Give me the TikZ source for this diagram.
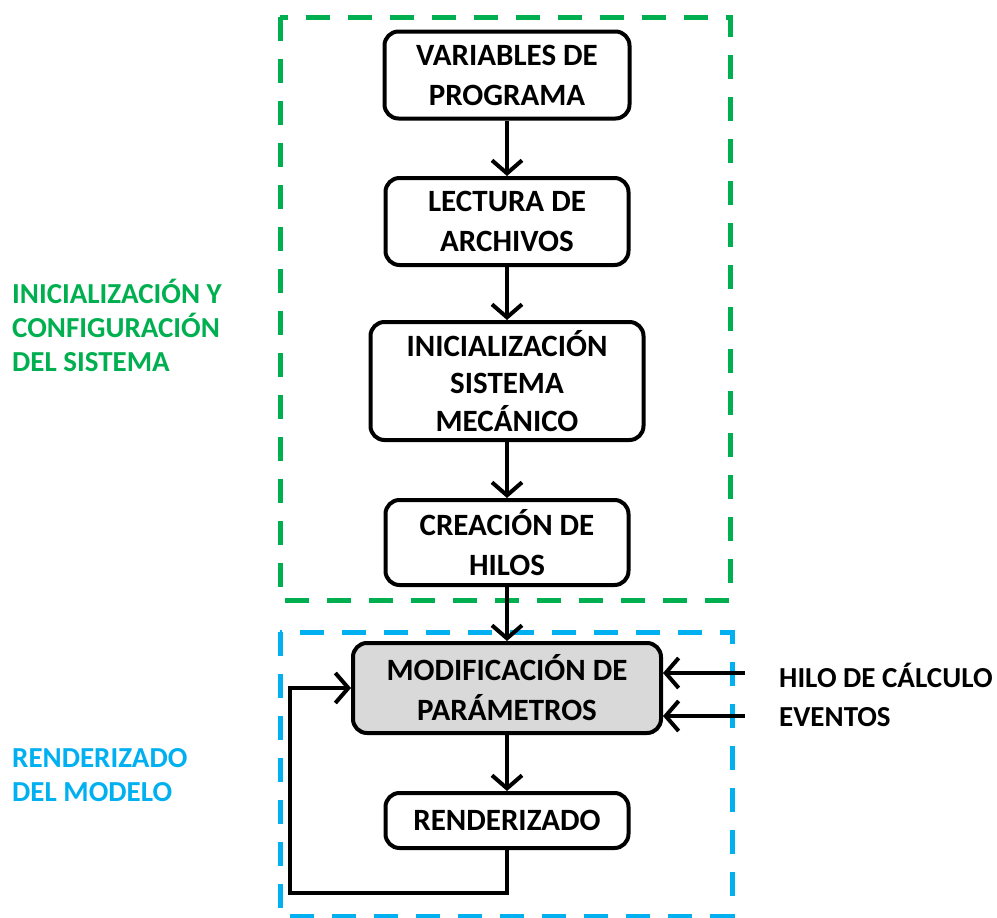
\documentclass[tikz,border=0pt]{standalone}
\usepackage{fontspec}
\setmainfont{Carlito}
\usetikzlibrary{arrows.meta}
\definecolor{grn}{RGB}{0,176,80}
\definecolor{blu}{RGB}{0,176,240}
\definecolor{gfill}{RGB}{217,217,217}
\begin{document}
\begin{tikzpicture}[x=1pt,y=-1pt,
  box/.style={draw=black,line width=4pt,rounded corners=14pt,fill=white,align=center,
    font=\fontsize{31}{40}\selectfont\bfseries,inner sep=0pt},
  arr/.style={line width=4pt,-{Straight Barb[length=13pt,width=30pt]}},
  grnbox/.style={draw=grn,line width=5pt,dash pattern=on 24pt off 18pt},
  blubox/.style={draw=blu,line width=5pt,dash pattern=on 24pt off 18pt},
  lab/.style={anchor=west,align=left,font=\fontsize{29}{34}\selectfont\bfseries,inner sep=0pt},
  rlab/.style={anchor=west,font=\fontsize{29}{34}\selectfont\bfseries,inner sep=0pt}]
\useasboundingbox (0,0) rectangle (997,918);
\fill[white] (0,0) rectangle (997,918);
\draw[grnbox] (280,17) rectangle (730,600);
\draw[blubox] (280,632) rectangle (732,916);

\node[box,minimum width=245pt,minimum height=87pt] (b1) at (507,75) {VARIABLES DE\\PROGRAMA};
\node[box,minimum width=243pt,minimum height=87pt] (b2) at (507,221.5) {LECTURA DE\\ARCHIVOS};
\node[box,minimum width=273pt,minimum height=118pt,font=\fontsize{31}{37.5}\selectfont\bfseries] (b3) at (507,381) {INICIALIZACIÓN\\SISTEMA\\MECÁNICO};
\node[box,minimum width=243pt,minimum height=85pt] (b4) at (507,542.5) {CREACIÓN DE\\HILOS};
\node[box,fill=gfill,minimum width=308pt,minimum height=90pt] (b5) at (507,688) {MODIFICACIÓN DE\\PARÁMETROS};
\node[box,minimum width=243pt,minimum height=55pt] (b6) at (507,820.5) {RENDERIZADO};

\draw[arr] (b1.south) -- (b2.north);
\draw[arr] (b2.south) -- (b3.north);
\draw[arr] (b3.south) -- (b4.north);
\draw[arr] (b4.south) -- (b5.north);
\draw[arr] (b5.south) -- (b6.north);

\coordinate (lp) at (290,893);
\draw[arr,line join=miter] (b6.south) |- (lp) |- (b5.west);

\coordinate (in1) at (745,673);
\coordinate (in2) at (745,716);
\draw[arr] (in1) -- (in1 -| b5.east);
\draw[arr] (in2) -- (in2 -| b5.east);
\node[rlab] (t1) at (779,675) {HILO DE CÁLCULO};
\node[rlab] (t2) at (779,717) {EVENTOS};

\node[lab,text=grn] (g) at (12,325) {INICIALIZACIÓN Y\\CONFIGURACIÓN\\DEL SISTEMA};
\node[lab,text=blu] (bl) at (12,775) {RENDERIZADO\\DEL MODELO};
\end{tikzpicture}
\end{document}
